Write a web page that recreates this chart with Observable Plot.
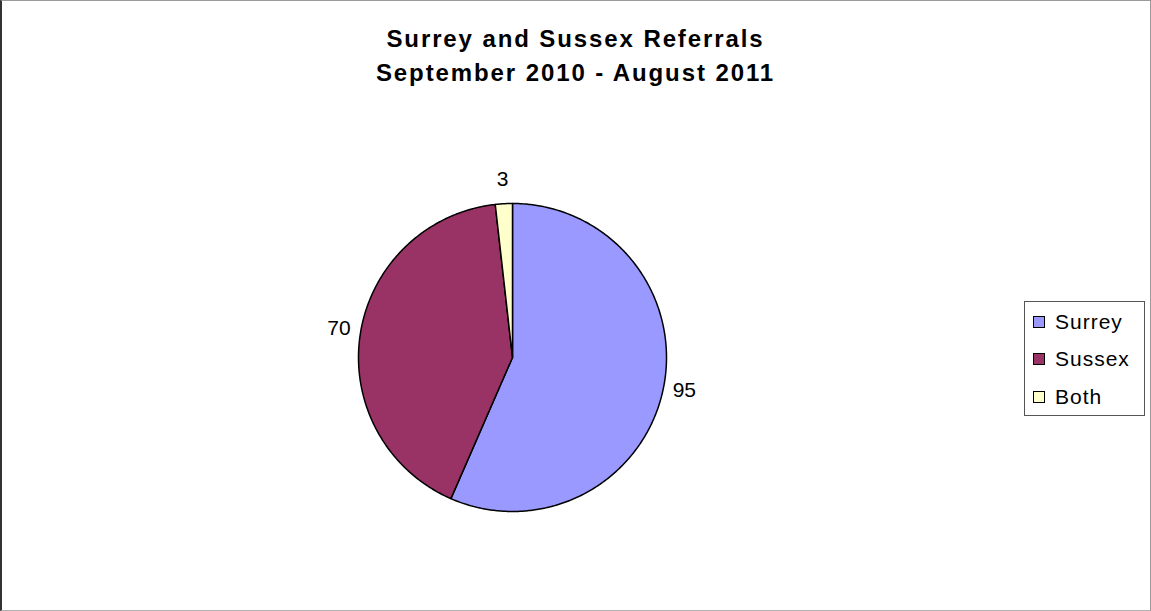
<!DOCTYPE html>
<html>
<head>
<meta charset="utf-8">
<script src="https://cdn.jsdelivr.net/npm/d3@7"></script>
<script src="https://cdn.jsdelivr.net/npm/@observablehq/plot@0.6"></script>
<style>
  html, body { margin: 0; padding: 0; background: #fff; }
  #chart { position: relative; width: 1151px; height: 611px; overflow: hidden; font-family: "Liberation Sans", Arial, sans-serif; }
  #frame { position: absolute; left: 0; top: 0; width: 1151px; height: 611px; box-sizing: border-box;
           border-top: 1px solid #9a9a9a; border-right: 1px solid #9a9a9a; border-bottom: 1px solid #b0b0b0; border-left: 2px solid #333; pointer-events: none; }
  #title { position: absolute; left: 0; width: 1151px; top: 22px; text-align: center; font-weight: bold; font-size: 24px; line-height: 34px; letter-spacing: 1.9px; color: #000; }
  #plot { position: absolute; left: 0; top: 0; }
  #legend { position: absolute; left: 1024px; top: 301px; width: 121px; height: 115px; box-sizing: border-box; border: 1px solid #555; background: #fff; padding-top: 1px; }
  .item { display: flex; align-items: center; height: 37.5px; padding-left: 8px; font-size: 21px; letter-spacing: 1px; color: #000; }
  .sw { width: 12px; height: 12px; border: 1px solid #000; margin-right: 10px; box-sizing: border-box; flex: none; }
</style>
</head>
<body>
<div id="chart">
  <div id="plot"></div>
  <div id="title">Surrey and Sussex Referrals<br>September 2010 - August 2011</div>
  <div id="legend"></div>
  <div id="frame"></div>
</div>
<script>
const categories = ["Surrey", "Sussex", "Both"];
const values = [95, 70, 3];
const colors = ["#9999FF", "#993366", "#FFFFCC"];

const arcs = d3.pie().sort(null).startAngle(0).endAngle(2 * Math.PI)(values);

// polygon vertices for each slice, derived from the pie angles
const slicePoints = [];
arcs.forEach((a, i) => {
  const name = categories[i];
  slicePoints.push({name, x: 0, y: 0});
  const n = Math.max(2, Math.ceil((a.endAngle - a.startAngle) / 0.01));
  for (let k = 0; k <= n; k++) {
    const t = a.startAngle + (a.endAngle - a.startAngle) * k / n;
    slicePoints.push({name, x: Math.sin(t), y: Math.cos(t)});
  }
});

const labels = arcs.map((a, i) => {
  const m = (a.startAngle + a.endAngle) / 2;
  const r = 1.14;
  return {text: String(values[i]), x: r * Math.sin(m), y: r * Math.cos(m) + 0.02};
});

const plot = Plot.plot({
  width: 1151,
  height: 611,
  marginLeft: 358,
  marginRight: 1151 - 666,
  marginTop: 203,
  marginBottom: 611 - 511,
  x: {domain: [-1, 1], axis: null},
  y: {domain: [-1, 1], axis: null},
  color: {domain: categories, range: colors},
  style: {background: "transparent", fontFamily: "Liberation Sans, Arial, sans-serif"},
  marks: [
    Plot.line(slicePoints, {x: "x", y: "y", z: "name", fill: "name", stroke: "#000", strokeWidth: 1.5, strokeLinejoin: "round", curve: "linear-closed"}),
    Plot.text(labels, {x: "x", y: "y", text: "text", fontSize: 21, fill: "#000"})
  ]
});
document.getElementById("plot").appendChild(plot);

const legend = document.getElementById("legend");
categories.forEach((c, i) => {
  const row = document.createElement("div");
  row.className = "item";
  const sw = document.createElement("span");
  sw.className = "sw";
  sw.style.background = colors[i];
  row.appendChild(sw);
  row.appendChild(document.createTextNode(c));
  legend.appendChild(row);
});
</script>
</body>
</html>
